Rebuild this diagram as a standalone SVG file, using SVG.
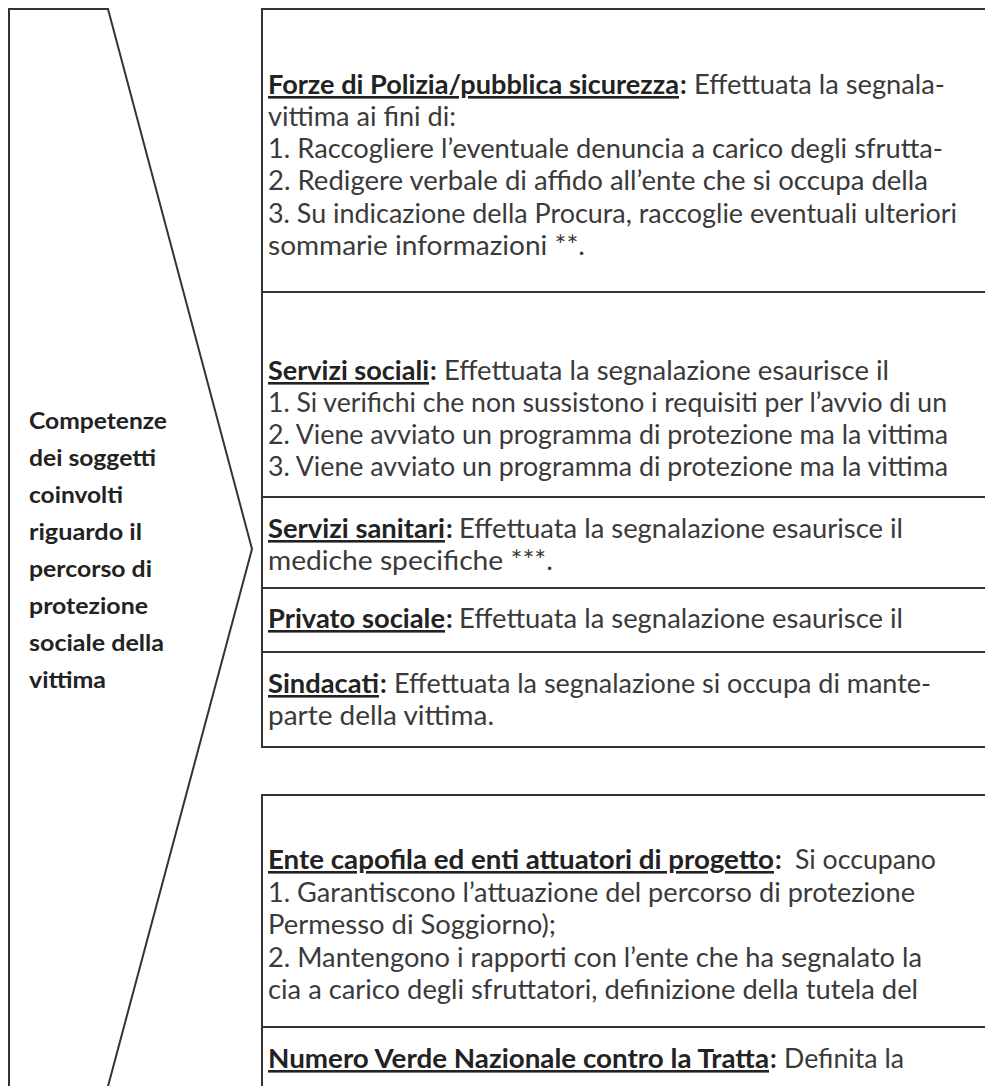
<svg xmlns="http://www.w3.org/2000/svg" width="985" height="1086" viewBox="0 0 985 1086">
<style>
.ln{fill:none;stroke:#333;stroke-width:2}
.t{font-family:Lato,"Open Sans","Liberation Sans",sans-serif;font-size:26px;fill:#3a3a3a}
.b{font-weight:bold;fill:#222}
.u{text-decoration:underline}
.lab{font-family:Lato,"Open Sans","Liberation Sans",sans-serif;font-size:23px;font-weight:bold;fill:#222}
</style>
<rect width="985" height="1086" fill="#fff"/>
<g id="chevron">
<polyline class="ln" points="9,1090 9,9 108,9 252,549 107,1090"/>
<text class="lab" x="29" y="429" textLength="138" lengthAdjust="spacingAndGlyphs">Competenze</text>
<text class="lab" x="29" y="466" textLength="127" lengthAdjust="spacingAndGlyphs">dei soggetti</text>
<text class="lab" x="29" y="503" textLength="94" lengthAdjust="spacingAndGlyphs">coinvolti</text>
<text class="lab" x="29" y="540" textLength="113" lengthAdjust="spacingAndGlyphs">riguardo il</text>
<text class="lab" x="29" y="577" textLength="123" lengthAdjust="spacingAndGlyphs">percorso di</text>
<text class="lab" x="29" y="614" textLength="119" lengthAdjust="spacingAndGlyphs">protezione</text>
<text class="lab" x="29" y="651" textLength="135" lengthAdjust="spacingAndGlyphs">sociale della</text>
<text class="lab" x="29" y="688" textLength="77" lengthAdjust="spacingAndGlyphs">vittima</text>
</g>
<g id="box-forze">
<rect class="ln" x="262" y="9" width="760" height="283"/>
<text class="t b u" x="268" y="94" textLength="411" lengthAdjust="spacingAndGlyphs">Forze di Polizia/pubblica sicurezza</text>
<text class="t b" x="680" y="94">:</text>
<text class="t" x="694" y="94" textLength="251" lengthAdjust="spacingAndGlyphs">Effettuata la segnala-</text>
<text class="t" x="268" y="126" textLength="188" lengthAdjust="spacingAndGlyphs">vittima ai fini di:</text>
<text class="t" x="268" y="158" textLength="675" lengthAdjust="spacingAndGlyphs">1. Raccogliere l’eventuale denuncia a carico degli sfrutta-</text>
<text class="t" x="268" y="190" textLength="660" lengthAdjust="spacingAndGlyphs">2. Redigere verbale di affido all’ente che si occupa della</text>
<text class="t" x="268" y="223" textLength="689" lengthAdjust="spacingAndGlyphs">3. Su indicazione della Procura, raccoglie eventuali ulteriori</text>
<text class="t" x="268" y="255" textLength="317" lengthAdjust="spacingAndGlyphs">sommarie informazioni **.</text>
</g>
<g id="box-sociali">
<rect class="ln" x="262" y="292" width="760" height="205"/>
<text class="t b u" x="268" y="380" textLength="161" lengthAdjust="spacingAndGlyphs">Servizi sociali</text>
<text class="t b" x="430" y="380">:</text>
<text class="t" x="444" y="380" textLength="445" lengthAdjust="spacingAndGlyphs">Effettuata la segnalazione esaurisce il</text>
<text class="t" x="268" y="412" textLength="679" lengthAdjust="spacingAndGlyphs">1. Si verifichi che non sussistono i requisiti per l’avvio di un</text>
<text class="t" x="268" y="444" textLength="680" lengthAdjust="spacingAndGlyphs">2. Viene avviato un programma di protezione ma la vittima</text>
<text class="t" x="268" y="476" textLength="680" lengthAdjust="spacingAndGlyphs">3. Viene avviato un programma di protezione ma la vittima</text>
</g>
<g id="box-sanitari">
<rect class="ln" x="262" y="497" width="760" height="91"/>
<text class="t b u" x="268" y="538" textLength="177" lengthAdjust="spacingAndGlyphs">Servizi sanitari</text>
<text class="t b" x="446" y="538">:</text>
<text class="t" x="459" y="538" textLength="444" lengthAdjust="spacingAndGlyphs">Effettuata la segnalazione esaurisce il</text>
<text class="t" x="268" y="570" textLength="285" lengthAdjust="spacingAndGlyphs">mediche specifiche ***.</text>
</g>
<g id="box-privato">
<rect class="ln" x="262" y="588" width="760" height="64"/>
<text class="t b u" x="268" y="628" textLength="177" lengthAdjust="spacingAndGlyphs">Privato sociale</text>
<text class="t b" x="446" y="628">:</text>
<text class="t" x="459" y="628" textLength="444" lengthAdjust="spacingAndGlyphs">Effettuata la segnalazione esaurisce il</text>
</g>
<g id="box-sindacati">
<rect class="ln" x="262" y="652" width="760" height="95"/>
<text class="t b u" x="268" y="693" textLength="111" lengthAdjust="spacingAndGlyphs">Sindacati</text>
<text class="t b" x="380" y="693">:</text>
<text class="t" x="394" y="693" textLength="537" lengthAdjust="spacingAndGlyphs">Effettuata la segnalazione si occupa di mante-</text>
<text class="t" x="268" y="725" textLength="226" lengthAdjust="spacingAndGlyphs">parte della vittima.</text>
</g>
<g id="box-ente">
<rect class="ln" x="262" y="795" width="760" height="232"/>
<text class="t b u" x="268" y="869" textLength="506" lengthAdjust="spacingAndGlyphs">Ente capofila ed enti attuatori di progetto</text>
<text class="t b" x="775" y="869">:</text>
<text class="t" x="795" y="869" textLength="141" lengthAdjust="spacingAndGlyphs">Si occupano</text>
<text class="t" x="268" y="902" textLength="647" lengthAdjust="spacingAndGlyphs">1. Garantiscono l’attuazione del percorso di protezione</text>
<text class="t" x="268" y="934" textLength="288" lengthAdjust="spacingAndGlyphs">Permesso di Soggiorno);</text>
<text class="t" x="268" y="967" textLength="654" lengthAdjust="spacingAndGlyphs">2. Mantengono i rapporti con l’ente che ha segnalato la</text>
<text class="t" x="268" y="999" textLength="650" lengthAdjust="spacingAndGlyphs">cia a carico degli sfruttatori, definizione della tutela del</text>
</g>
<g id="box-numero-verde">
<rect class="ln" x="262" y="1027" width="760" height="80"/>
<text class="t b u" x="268" y="1068" textLength="501" lengthAdjust="spacingAndGlyphs">Numero Verde Nazionale contro la Tratta</text>
<text class="t b" x="770" y="1068">:</text>
<text class="t" x="784" y="1068" textLength="120" lengthAdjust="spacingAndGlyphs">Definita la</text>
</g>
<g id="connectors"/>
</svg>
